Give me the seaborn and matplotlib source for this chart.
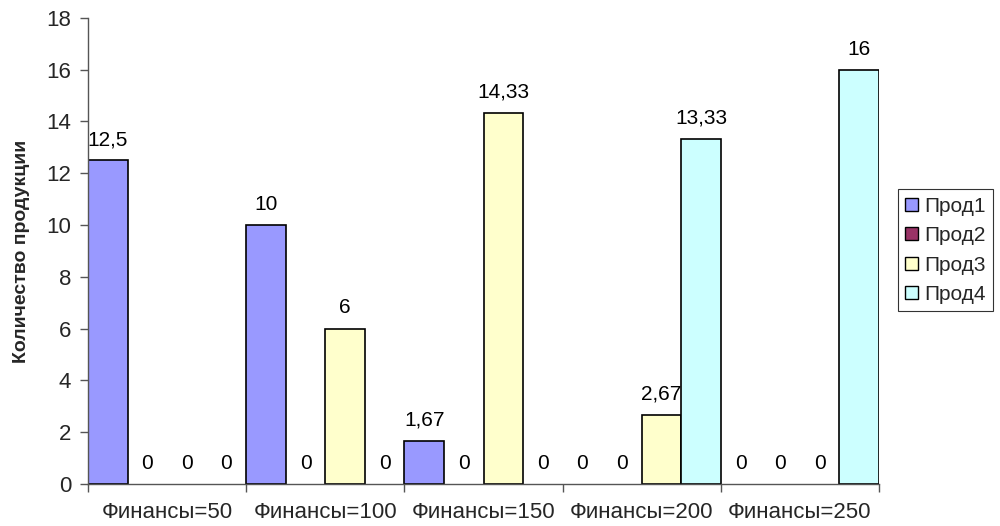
import matplotlib
matplotlib.use("Agg")
import matplotlib.pyplot as plt
import seaborn as sns
import pandas as pd
from matplotlib.patches import Patch

# Categories and per-product quantities
categories = ["Финансы=50", "Финансы=100", "Финансы=150", "Финансы=200", "Финансы=250"]
products = ["Прод1", "Прод2", "Прод3", "Прод4"]
prod1 = [12.5, 10, 1.67, 0, 0]
prod2 = [0, 0, 0, 0, 0]
prod3 = [0, 6, 14.33, 2.67, 0]
prod4 = [0, 0, 0, 13.33, 16]
colors = ["#9999FF", "#993366", "#FFFFCC", "#CCFFFF"]

series = [prod1, prod2, prod3, prod4]
rows = []
for name, vals in zip(products, series):
    for cat, v in zip(categories, vals):
        rows.append({"cat": cat, "product": name, "value": v})
df = pd.DataFrame(rows)

sns.set_style("white")
plt.rcParams["font.family"] = ["Liberation Sans", "DejaVu Sans"]

fig = plt.figure(figsize=(10, 5.26), dpi=100)
ax = fig.add_axes([0.088, 0.080, 0.791, 0.886])

sns.barplot(data=df, x="cat", y="value", hue="product", order=categories,
            hue_order=products, palette=colors, width=1.0, gap=0,
            edgecolor="black", linewidth=1.2, saturation=1, ax=ax, legend=False)


def fmt(v):
    s = f"{v:.2f}".rstrip("0").rstrip(".")
    return s.replace(".", ",")


for cont, vals in zip(ax.containers, series):
    for patch, v in zip(cont.patches, vals):
        if v == 0:
            patch.set_visible(False)
    ax.bar_label(cont, labels=[fmt(v) for v in vals], padding=8, fontsize=15,
                 color="black")

ax.set_ylim(0, 18)
ax.set_xlim(-0.5, 4.5)
ax.set_yticks(range(0, 19, 2))
ax.tick_params(axis="y", labelsize=16, length=6, width=1, color="#555555",
               left=True, pad=6)

# Category labels centred, tick marks on the group boundaries
ax.set_xticks(range(len(categories)))
ax.set_xticklabels(categories, fontsize=16)
ax.tick_params(axis="x", length=0, pad=13)
ax.set_xticks([i - 0.5 for i in range(len(categories) + 1)], minor=True)
ax.tick_params(axis="x", which="minor", length=6, width=1, color="#555555",
               bottom=True)

ax.set_xlabel("")
ax.set_ylabel("Количество продукции", fontsize=14, fontweight="bold", labelpad=12)

for s in ["top", "right"]:
    ax.spines[s].set_visible(False)
for s in ["left", "bottom"]:
    ax.spines[s].set_color("#555555")
    ax.spines[s].set_linewidth(1)

handles = [Patch(facecolor=c, edgecolor="black", linewidth=1) for c in colors]
leg = fig.legend(handles, products, loc="center left",
                 bbox_to_anchor=(0.898, 0.524), fontsize=15, frameon=True,
                 fancybox=False, edgecolor="black", handlelength=0.6,
                 handleheight=0.6, handletextpad=0.3, labelspacing=0.5,
                 borderpad=0.35, borderaxespad=0)
leg.get_frame().set_linewidth(0.8)

fig.savefig("out.png", dpi=100)
